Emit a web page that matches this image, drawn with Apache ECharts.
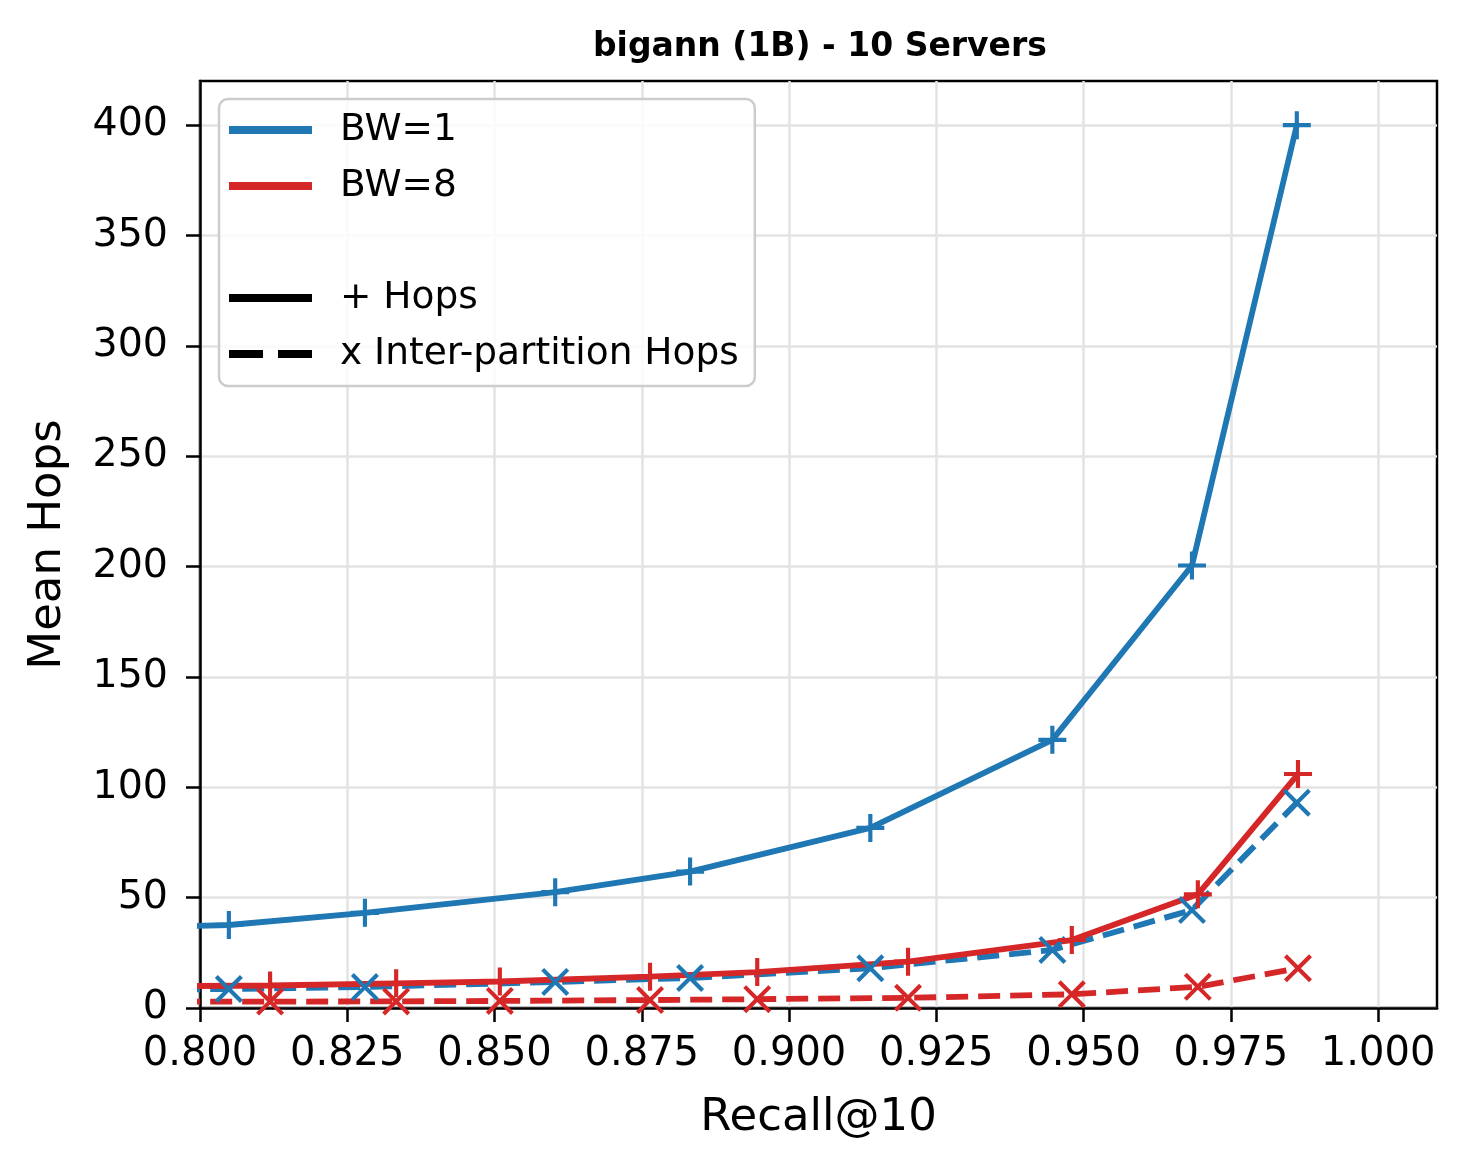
<!DOCTYPE html>
<html>
<head>
<meta charset="utf-8">
<script src="https://cdn.jsdelivr.net/npm/echarts@6/dist/echarts.min.js"></script>
<style>
html,body{margin:0;padding:0;background:#fff;}
#chart{width:1467px;height:1171px;}
</style>
</head>
<body>
<div id="chart"></div>
<script>
// ---- data ----
const bw1Recall = [0.780, 0.8049, 0.828, 0.8603, 0.8832, 0.9138, 0.9447, 0.9684, 0.9862];
const bw1Hops   = [35.6, 37.6, 43.1, 52.5, 61.8, 81.6, 121.5, 200.5, 400];
const bw1Inter  = [8.0, 8.6, 9.5, 11.8, 13.6, 18.0, 26.3, 44.4, 93];
const bw8Recall = [0.780, 0.8119, 0.8333, 0.8509, 0.8764, 0.8946, 0.9202, 0.948, 0.9694, 0.9864];
const bw8Hops   = [9.6, 10.2, 11.2, 12.0, 14.2, 16.3, 21.0, 30.8, 51.5, 106];
const bw8Inter  = [2.8, 2.9, 3.0, 3.2, 3.6, 4.0, 4.6, 6.2, 9.6, 18];
const xTicks = [0.800, 0.825, 0.850, 0.875, 0.900, 0.925, 0.950, 0.975, 1.000];
const yTicks = [0, 50, 100, 150, 200, 250, 300, 350, 400];

const BLUE = '#1f77b4', RED = '#d62728';
const FONT = 'DejaVu Sans';
const PLUS = 'path://M11.5,0h4v11.5h11.5v4h-11.5v11.5h-4v-11.5h-11.5v-4h11.5z';
const CROSS = 'path://M0,2.8L2.8,0L27,24.2L24.2,27Z M24.2,0L27,2.8L2.8,27L0,24.2Z';
const DASH_ICON = 'path://M0,0h34v8h-34z M49,0h34v8h-34z';

function pairs(xs, ys){ return xs.map((x,i)=>[x, ys[i]]); }

function lineSeries(name, xs, ys, color, symbol, dashed){
  return {
    name: name, type: 'line', data: pairs(xs, ys),
    symbol: symbol, symbolSize: 28, showAllSymbol: true,
    color: color,
    itemStyle: {color: color, borderWidth: 0},
    lineStyle: {color: color, width: 5.8, type: dashed ? [22, 10] : 'solid'},
    emphasis: {disabled: true}, clip: true, z: 2
  };
}
function dummy(name, color){
  return {name: name, type: 'line', data: [], color: color,
          itemStyle: {color: color, borderWidth: 0}, lineStyle: {color: color}};
}

const chart = echarts.init(document.getElementById('chart'), null, {renderer: 'canvas'});
chart.setOption({
  animation: false,
  backgroundColor: '#ffffff',
  title: {
    text: 'bigann (1B) - 10 Servers',
    left: 588, top: 26,
    textStyle: {fontFamily: FONT, fontWeight: 'bold', fontSize: 33, color: '#000'}
  },
  grid: {
    left: 200, right: 30, top: 81, bottom: 163,
    show: true, borderColor: '#000', borderWidth: 2.5, backgroundColor: 'transparent',
    outerBoundsMode: 'none'
  },
  legend: {
    orient: 'vertical', left: 219, top: 99,
    padding: [11, 16, 12, 10],
    itemWidth: 83, itemHeight: 8, itemGap: 16,
    selectedMode: false,
    backgroundColor: 'rgba(255,255,255,0.8)',
    borderColor: '#cccccc', borderWidth: 2.5, borderRadius: 9,
    textStyle: {fontFamily: FONT, fontSize: 37.5, color: '#000', lineHeight: 40, padding: [0, 0, 0, 23]},
    data: [
      {name: 'BW=1', icon: 'rect'},
      {name: 'BW=8', icon: 'rect'},
      {name: ' ', icon: 'rect', itemStyle: {opacity: 0}},
      {name: '+ Hops', icon: 'rect'},
      {name: 'x Inter-partition Hops', icon: DASH_ICON}
    ]
  },
  xAxis: {
    type: 'value', min: 0.8, max: 1.01, interval: 0.025,
    name: 'Recall@10', nameLocation: 'middle', nameGap: 88,
    nameTextStyle: {fontFamily: FONT, fontSize: 45, color: '#000'},
    axisLine: {show: true, onZero: false, lineStyle: {color: '#000', width: 2.5}},
    axisTick: {show: true, inside: false, length: 14, lineStyle: {color: '#000', width: 2.5}, customValues: xTicks},
    axisLabel: {show: true, margin: 27, fontFamily: FONT, fontSize: 40, color: '#000',
                customValues: xTicks, formatter: v => Number(v).toFixed(3)},
    splitLine: {show: true, lineStyle: {color: '#e3e3e3', width: 2.5}}
  },
  yAxis: {
    type: 'value', min: 0, max: 420, interval: 50,
    name: 'Mean Hops', nameLocation: 'middle', nameGap: 129,
    nameTextStyle: {fontFamily: FONT, fontSize: 45, color: '#000'},
    axisLine: {show: true, onZero: false, lineStyle: {color: '#000', width: 2.5}},
    axisTick: {show: true, inside: false, length: 14, lineStyle: {color: '#000', width: 2.5}, customValues: yTicks},
    axisLabel: {show: true, margin: 32, fontFamily: FONT, fontSize: 39.5, color: '#000',
                padding: [6, 0, 0, 0], customValues: yTicks},
    splitLine: {show: true, lineStyle: {color: '#e3e3e3', width: 2.5}}
  },
  series: [
    lineSeries('BW=1', bw1Recall, bw1Hops, BLUE, PLUS, false),
    lineSeries('BW=1 inter', bw1Recall, bw1Inter, BLUE, CROSS, true),
    lineSeries('BW=8', bw8Recall, bw8Hops, RED, PLUS, false),
    lineSeries('BW=8 inter', bw8Recall, bw8Inter, RED, CROSS, true),
    dummy(' ', 'rgba(0,0,0,0)'),
    dummy('+ Hops', '#000000'),
    dummy('x Inter-partition Hops', '#000000')
  ]
});
</script>
</body>
</html>
